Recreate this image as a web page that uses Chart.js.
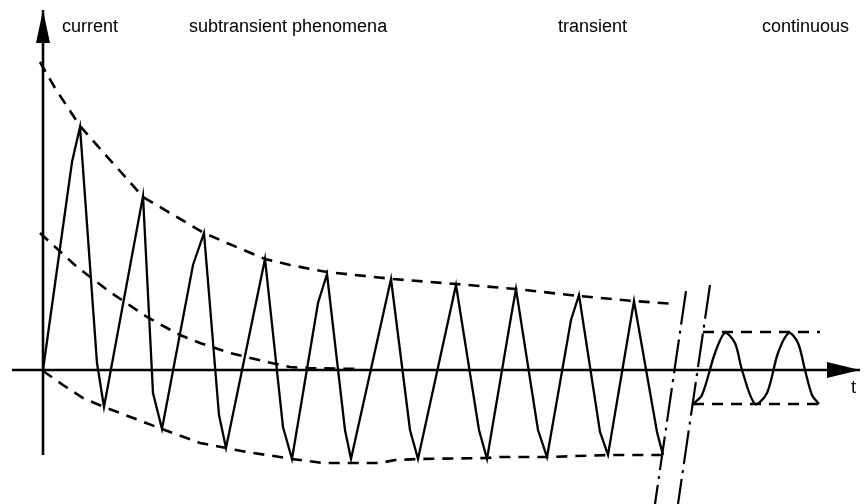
<!DOCTYPE html>
<html>
<head>
<meta charset="utf-8">
<script src="https://cdn.jsdelivr.net/npm/chart.js@4"></script>
<style>
  body { margin: 0; background: #fff; }
  #wrap { width: 866px; height: 504px; position: relative; }
</style>
</head>
<body>
<div id="wrap"><canvas id="myChart"></canvas></div>
<script>
// t = time, i = current (schematic units)
const wave = [[0,0],[29,208],[37,243],[54,7],[61,-37],[100,174],[110,-23],[119,-59],[150,105],[161,137],
  [176,-45],[183,-78],[222,111],[240,-57],[249,-89],[275,67],[284,96],[302,-60],[308,-89],[348,91],
  [367,-60],[375,-89],[413,85],[436,-60],[444,-89],[468,53],[473,81],[495,-60],[504,-87],[528,50],
  [536,75],[557,-62],[565,-85],[591,69],[614,-62],[620,-85]];
const upperEnv = [[-3,308],[12,282],[37,244],[100,173],[161,137],[184,127],[222,111],[247,105],[284,98],
  [350,91],[413,86],[473,81],[536,74],[591,69],[632,66]];
const middleEnv = [[-3,137],[34,103],[67,78],[104,53],[124,42],[137,35],[157,27],[187,17],[224,8],[247,3],[264,2],[317,1]];
const lowerEnv = [[0,-1],[20,-15],[40,-28],[61,-37],[77,-43],[119,-59],[157,-73],[183,-78],[204,-82],[224,-85],
  [249,-89],[280,-93],[337,-93],[352,-90],[375,-89],[444,-88],[457,-87],[504,-87],[565,-85],[620,-85]];
const break1 = [[643,79],[612,-134]];
const break2 = [[667,85],[635,-134]];
const steady = [[650,-34],[659,-25],[672,17],[682,37],[692,27],[699,0],[712,-34],[724,-23],[735,17],[746,37],
  [755,27],[762,0],[769,-25],[776,-34]];
const steadyTop = [[660,38],[777,38]];
const steadyBottom = [[650,-34],[777,-34]];
const xAxisLine = [[-31,0],[817,0]];
const yAxisLine = [[0,-85],[0,360]];

const labels = ['current', 'subtransient phenomena', 'transient', 'continuous', 't'];
const labelT = [19, 146, 515, 719, 808];
const labelI = [338, 338, 338, 338, -23];

const pts = a => a.map(p => ({x: p[0], y: p[1]}));

function line(data, dash, width) {
  return {
    data: pts(data),
    showLine: true,
    borderColor: '#000',
    borderWidth: width || 2.3,
    borderDash: dash || [],
    pointRadius: 0,
    fill: false,
    tension: 0
  };
}

const extras = {
  id: 'extras',
  afterDatasetsDraw(chart) {
    const c = chart.ctx, xs = chart.scales.x, ys = chart.scales.y;
    c.save();
    c.fillStyle = '#000';
    // arrow heads
    let x0 = xs.getPixelForValue(0), tip = ys.getPixelForValue(360);
    c.beginPath();
    c.moveTo(x0, tip); c.lineTo(x0 - 7, tip + 33); c.lineTo(x0 + 7, tip + 33); c.closePath(); c.fill();
    let y0 = ys.getPixelForValue(0), tipx = xs.getPixelForValue(817);
    c.beginPath();
    c.moveTo(tipx, y0); c.lineTo(tipx - 33, y0 - 8); c.lineTo(tipx - 33, y0 + 8); c.closePath(); c.fill();
    // labels
    c.font = '18px "Liberation Sans", Arial, sans-serif';
    c.textBaseline = 'alphabetic';
    c.textAlign = 'left';
    labels.forEach((s, k) => c.fillText(s, xs.getPixelForValue(labelT[k]), ys.getPixelForValue(labelI[k])));
    c.restore();
  }
};

const ctx = document.getElementById('myChart').getContext('2d');
const myChart = new Chart(ctx, {
  type: 'scatter',
  data: {
    datasets: [
      line(xAxisLine, [], 2.6),
      line(yAxisLine, [], 2.6),
      line(wave),
      line(upperEnv, [11, 8], 2.6),
      line(middleEnv, [11, 8], 2.6),
      line(lowerEnv, [11, 8], 2.6),
      line(break1, [34, 6, 3, 6], 2.2),
      line(break2, [34, 6, 3, 6], 2.2),
      Object.assign(line(steady), {tension: 0.3}),
      line(steadyTop, [11, 8], 2.6),
      line(steadyBottom, [11, 8], 2.6)
    ]
  },
  options: {
    animation: false,
    responsive: true,
    maintainAspectRatio: false,
    layout: { padding: 0 },
    plugins: { legend: { display: false }, tooltip: { enabled: false } },
    scales: {
      x: { type: 'linear', display: false, min: -43, max: 823 },
      y: { type: 'linear', display: false, min: -134, max: 370 }
    }
  },
  plugins: [extras]
});
</script>
</body>
</html>
